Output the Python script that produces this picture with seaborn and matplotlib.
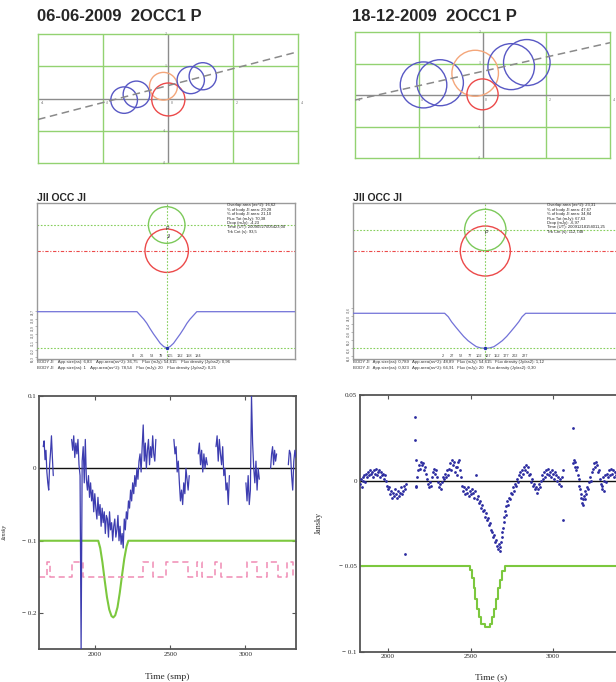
import numpy as np
import pandas as pd
import matplotlib
matplotlib.use("Agg")
import matplotlib.pyplot as plt
from matplotlib.patches import Circle
import seaborn as sns

W, H = 616, 682

# ---------------- top row: apparent tracks (arcsec) ----------------
orbit_xticks = [-4, -2, 0, 2, 4]
orbit_yticks = [-2, -1, 0, 1, 2]
circle_kind = ["JI", "JI", "JII", "P", "JI", "JI"]

jun_circle_x = [-1.35, -0.97, -0.14, 0.01, 0.70, 1.07]
jun_circle_y = [-0.05, 0.13, 0.38, -0.03, 0.57, 0.69]
jun_circle_r = [0.41, 0.41, 0.43, 0.51, 0.42, 0.42]
jun_track_x = [-4, 4]
jun_track_y = [-0.65, 1.45]

dec_circle_x = [-1.85, -1.33, -0.23, 0.0, 0.90, 1.39]
dec_circle_y = [0.32, 0.39, 0.69, 0.02, 0.90, 1.03]
dec_circle_r = [0.73, 0.73, 0.73, 0.49, 0.73, 0.73]
dec_track_x = [-4, 4]
dec_track_y = [-0.16, 1.66]

# ---------------- middle row: simulation ----------------
jun_body_dy = [0.0, -25.7]      # green (P) and red (JI) body centres
jun_body_r = [18.3, 21.7]
jun_lc_t = [-273, 11, 20, 30, 39, 48, 58, 68, 77, 87, 96, 105, 115, 124, 134,
            144, 153, 162, 172, 181, 460]
jun_lc_flux = [74.61, 74.61, 74.2, 73.75, 73.26, 72.65, 72.02, 71.45, 70.93,
               70.55, 70.38, 70.55, 70.93, 71.45, 72.02, 72.65, 73.26, 73.75,
               74.2, 74.61, 74.61]
jun_lc_xticks = [0, 26, 53, 79, 105, 132, 158, 184]
jun_lc_yticks = [69.3, 70.2, 71.1, 72.0, 72.9, 73.8, 74.7]
jun_info = ["Overlap area (as^2): 16,62", "% of body JI area: 29,28",
            "% of body JI area: 21,10", "Flux Tot (mJy): 70,38",
            "Drop (mJy): -4,23", "Time (UT): 20090527005423,00",
            "Trk Cnt (s): 93,5"]
jun_body_info = [
    "BODY JI    App.size(as): 6,83    App.area(as^2): 36,75    Flux (mJy): 54,615    Flux density (Jy/as2): 0,96",
    "BODY JI    App.size(as): 1    App.area(as^2): 78,54    Flux (mJy): 20    Flux density (Jy/as2): 0,25"]

dec_body_dy = [0.0, -21.0]
dec_body_r = [20.7, 25.0]
dec_lc_t = [-243, 8, 18, 27, 38, 49, 60, 72, 84, 95, 107, 119, 131, 143, 154,
            166, 178, 189, 200, 211, 220, 230, 502]
dec_lc_flux = [74.6, 74.6, 73.9, 72.9, 71.9, 70.94, 70.0, 69.15, 68.5, 67.95,
               67.7, 67.63, 67.7, 67.95, 68.5, 69.15, 70.0, 70.94, 71.9, 72.9,
               73.9, 74.6, 74.6]
dec_lc_xticks = [2, 27, 52, 77, 102, 127, 152, 177, 202, 227]
dec_lc_yticks = [66.0, 67.6, 69.2, 70.8, 72.4, 74.0, 75.6]
dec_info = ["Overlap area (as^2): 23,31", "% of body JI area: 47,67",
            "% of body JI area: 34,84", "Flux Tot (mJy): 67,63",
            "Drop (mJy): -6,97", "Time (UT): 20091218154011,25",
            "Trk Cnt (s): 112,748"]
dec_body_info = [
    "BODY JI   App.size(as): 0,789   App.area(as^2): 48,89   Flux (mJy): 54,615   Flux density (Jy/as2): 1,12",
    "BODY JI   App.size(as): 0,923   App.area(as^2): 66,91   Flux (mJy): 20   Flux density (Jy/as2): 0,30"]

# ---------------- bottom left: observed series (Jansky vs samples) ----------------
# each segment: (first sample, last sample, values)
jun_segments = [
    (1656, 1723, [0.03, 0.038, 0.012, 0.025, -0.005, -0.02, -0.03, 0.005, 0.022, 0.045, 0.015, -0.01]),
    (1845, 2405, [0.04, 0.025, 0.045, 0.015, 0.035, 0.02, 0.04, 0.005,
                  -0.01, -0.25, 0.01, 0.03, -0.02, 0.04, -0.015, -0.03,
                  -0.01, -0.04, -0.02, -0.045, -0.03, -0.06, -0.035, -0.055,
                  -0.07, -0.04, -0.065, -0.05, -0.08, -0.055, -0.075, -0.06,
                  -0.09, -0.065, -0.07, -0.095, -0.06, -0.085, -0.075, -0.1,
                  -0.08, -0.07, -0.095, -0.085, -0.065, -0.1, -0.08, -0.105,
                  -0.09, -0.11, -0.07, -0.085, -0.06, -0.07, -0.045, -0.055,
                  -0.03, -0.045, -0.02, -0.035, -0.01, -0.025, 0.0, -0.015,
                  0.01, 0.02, -0.005, 0.03, 0.06, 0.01, 0.035, 0.0,
                  0.025, 0.04, 0.005, 0.03, 0.015, 0.045, 0.02, 0.01, 0.04]),
    (2525, 2627, [0.04, 0.02, 0.03, -0.005, 0.01, -0.02, -0.045, -0.03, -0.05, -0.02, -0.035, 0.0, -0.015, -0.03, -0.01]),
    (2687, 2747, [0.02, 0.035, 0.005, 0.025, -0.005, 0.02, 0.0, 0.015, 0.005]),
    (2805, 2894, [0.03, 0.045, 0.01, 0.04, 0.02, 0.005, 0.03, -0.01, 0.0, -0.03, -0.02, -0.05, -0.01]),
    (3004, 3093, [-0.02, -0.045, -0.01, -0.05, -0.03, 0.1, 0.035, 0.0, -0.02, 0.01, -0.03, 0.0, -0.015]),
    (3168, 3208, [0.0, 0.02, 0.03, 0.005, 0.025, 0.01, 0.02]),
    (3286, 3337, [0.005, 0.025, 0.02, -0.01, -0.03, 0.01, 0.025, 0.015]),
]
jun_model_t = [1630, 2022, 2035, 2050, 2065, 2080, 2095, 2110, 2122, 2135, 2150,
               2165, 2180, 2195, 2210, 2222, 3337]
jun_model_v = [-0.1, -0.1, -0.11, -0.13, -0.155, -0.178, -0.195, -0.204, -0.206,
               -0.203, -0.192, -0.172, -0.148, -0.125, -0.108, -0.1, -0.1]
jun_flag_t = [1630, 1683, 1701, 1845, 1922, 2317, 2388, 2470, 2621, 2681, 2710,
              2798, 2836, 3009, 3075, 3142, 3220, 3279, 3319, 3337]
jun_flag_v = [-0.15, -0.13, -0.15, -0.13, -0.15, -0.13, -0.15, -0.13, -0.15,
              -0.13, -0.15, -0.13, -0.15, -0.13, -0.15, -0.13, -0.15, -0.13,
              -0.15, -0.15]

# ---------------- bottom right: observed points (Jansky vs seconds) ----------------
dec_points = [
    (1830, -0.002), (1835, 0.001), (1840, -0.004), (1845, 0.002), (1850, 0.0), (1856, 0.003),
    (1862, -0.001), (1868, 0.004), (1874, 0.002), (1880, 0.005), (1886, 0.003), (1892, 0.006),
    (1898, 0.004), (1904, 0.005), (1910, 0.002), (1916, 0.006), (1922, 0.004), (1928, 0.007),
    (1934, 0.003), (1940, 0.005), (1946, 0.006), (1952, 0.002), (1958, 0.005), (1964, 0.003),
    (1970, 0.004), (1976, 0.001), (1982, 0.003), (1988, 0.0), (1994, -0.003), (2000, -0.005),
    (2006, -0.004), (2012, -0.008), (2018, -0.006), (2024, -0.01), (2030, -0.007), (2036, -0.009),
    (2042, -0.005), (2048, -0.008), (2054, -0.01), (2060, -0.006), (2066, -0.009), (2072, -0.007),
    (2078, -0.004), (2084, -0.008), (2090, -0.006), (2096, -0.003), (2101, -0.043), (2104, -0.005),
    (2108, -0.002), (2166, 0.037), (2166, 0.0235), (2168, 0.012), (2168, -0.004), (2170, -0.003),
    (2176, 0.002), (2182, 0.006), (2188, 0.009), (2194, 0.007), (2200, 0.011), (2206, 0.009),
    (2212, 0.01), (2218, 0.006), (2224, 0.008), (2230, 0.004), (2236, 0.001), (2242, -0.002),
    (2248, -0.004), (2254, -0.001), (2260, -0.003), (2266, 0.002), (2272, 0.005), (2278, 0.007),
    (2284, 0.004), (2290, 0.006), (2296, 0.002), (2302, -0.001), (2308, -0.004), (2314, -0.002),
    (2320, -0.005), (2326, -0.001), (2332, 0.002), (2338, 0.001), (2344, 0.004), (2350, 0.002),
    (2356, 0.006), (2362, 0.003), (2368, 0.007), (2374, 0.01), (2380, 0.006), (2386, 0.012),
    (2392, 0.009), (2398, 0.011), (2404, 0.005), (2410, 0.008), (2416, 0.003), (2420, 0.008),
    (2426, 0.011), (2432, 0.012), (2436, 0.006), (2440, 0.002), (2450, -0.003), (2456, -0.006),
    (2462, -0.004), (2468, -0.008), (2474, -0.005), (2480, -0.007), (2486, -0.004), (2492, -0.009),
    (2498, -0.006), (2504, -0.008), (2510, -0.005), (2516, -0.007), (2522, -0.01), (2528, -0.006),
    (2534, 0.003), (2540, -0.011), (2546, -0.009), (2552, -0.013), (2558, -0.012), (2564, -0.016),
    (2570, -0.014), (2576, -0.018), (2582, -0.017), (2588, -0.021), (2594, -0.019), (2600, -0.023),
    (2606, -0.022), (2612, -0.026), (2618, -0.025), (2624, -0.029), (2630, -0.03), (2636, -0.033),
    (2642, -0.032), (2648, -0.036), (2654, -0.035), (2660, -0.038), (2666, -0.04), (2672, -0.037),
    (2676, -0.041), (2680, -0.039), (2684, -0.036), (2688, -0.033), (2692, -0.03), (2696, -0.028),
    (2700, -0.024), (2704, -0.021), (2708, -0.018), (2712, -0.02), (2716, -0.015), (2720, -0.012),
    (2726, -0.014), (2732, -0.01), (2738, -0.011), (2744, -0.007), (2750, -0.008), (2756, -0.004),
    (2762, -0.006), (2768, -0.002), (2774, -0.003), (2780, 0.001), (2786, -0.001), (2792, 0.003),
    (2798, 0.005), (2804, 0.002), (2810, 0.006), (2816, 0.004), (2822, 0.008), (2830, 0.006),
    (2836, 0.009), (2842, 0.005), (2848, 0.008), (2854, 0.003), (2860, 0.004), (2866, -0.001),
    (2872, 0.001), (2878, -0.003), (2884, -0.002), (2890, -0.005), (2896, -0.004), (2902, -0.007),
    (2908, -0.005), (2914, -0.002), (2920, -0.004), (2926, 0.0), (2932, 0.003), (2938, 0.001),
    (2944, 0.005), (2950, 0.002), (2956, 0.006), (2962, 0.004), (2968, 0.007), (2974, 0.003),
    (2980, 0.005), (2986, 0.002), (2992, 0.006), (2998, 0.004), (3004, 0.001), (3010, 0.005),
    (3016, 0.003), (3022, 0.0), (3028, 0.002), (3034, -0.002), (3040, 0.001), (3046, -0.003),
    (3052, 0.002), (3058, 0.006), (3062, -0.023), (3121, 0.031), (3124, 0.01), (3128, 0.012),
    (3132, 0.008), (3136, 0.011), (3140, 0.006), (3146, 0.008), (3150, 0.003), (3156, 0.001),
    (3160, -0.003), (3164, -0.005), (3168, -0.008), (3172, -0.01), (3176, -0.013), (3180, -0.011),
    (3184, -0.014), (3188, -0.009), (3192, -0.011), (3196, -0.006), (3200, -0.008), (3206, -0.004),
    (3212, -0.005), (3218, -0.001), (3224, 0.002), (3230, 0.0), (3236, 0.005), (3242, 0.007),
    (3248, 0.01), (3254, 0.008), (3260, 0.011), (3266, 0.009), (3272, 0.005), (3278, 0.006),
    (3284, 0.001), (3290, -0.002), (3294, -0.005), (3298, -0.003), (3302, 0.002), (3306, -0.006),
    (3310, 0.0), (3316, 0.003), (3322, -0.001), (3328, 0.004), (3334, 0.002), (3340, 0.006),
    (3346, 0.003), (3352, 0.007), (3358, 0.004), (3364, 0.006), (3370, 0.002), (3376, 0.005),
    (3382, 0.003),
]
dec_model_t = [1828, 2499, 2510, 2520, 2530, 2541, 2552, 2566, 2586, 2616, 2630,
               2645, 2657, 2668, 2680, 2693, 2707, 3600]
dec_model_v = [-0.05, -0.052, -0.057, -0.063, -0.069, -0.075, -0.08, -0.084,
               -0.0853, -0.084, -0.08, -0.075, -0.069, -0.063, -0.058, -0.053,
               -0.05, -0.05]

# ---------------- styling ----------------
sns.set_theme(style="white")
plt.rcParams["font.family"] = ["Liberation Sans", "DejaVu Sans"]
SERIF = ["Liberation Serif", "DejaVu Serif"]

GRID_GREEN = "#93d271"
AXIS_GRAY = "#8c8c8c"
circle_colors = {"JI": "#5858c4", "JII": "#f4a67a", "P": "#ec4a4a"}


def px_axes(fig, left, top, right, bottom):
    return fig.add_axes([left / W, 1 - bottom / H, (right - left) / W, (bottom - top) / H])


def draw_track(ax, cx, cy, cr, track_x, track_y):
    for s in ax.spines.values():
        s.set_color(GRID_GREEN)
        s.set_linewidth(1.0)
    ax.set_xticks([])
    ax.set_yticks([])
    for gx in [-2, 2]:
        ax.axvline(gx, color=GRID_GREEN, lw=1.0, zorder=1)
    for gy in [-1, 1]:
        ax.axhline(gy, color=GRID_GREEN, lw=1.0, zorder=1)
    ax.axvline(0, color=AXIS_GRAY, lw=1.0, zorder=2)
    ax.axhline(0, color=AXIS_GRAY, lw=1.0, zorder=2)
    for x, y, r, k in zip(cx, cy, cr, circle_kind):
        ax.add_patch(Circle((x, y), r, fill=False, ec=circle_colors[k], lw=1.0, zorder=4))
    sns.lineplot(x=track_x, y=track_y, ax=ax, color="#8a8a8a", lw=1.1,
                 linestyle=(0, (5, 3)), zorder=5)
    ax.set_xlim(-4, 4)
    ax.set_ylim(-2, 2)
    for t in orbit_xticks:
        ax.text(t + 0.08, -0.08, str(t), fontsize=2.8, color="#666666",
                ha="left", va="top", family=SERIF)
    for t in orbit_yticks:
        if t != 0:
            ax.text(-0.05, t, str(t), fontsize=2.8, color="#666666",
                    ha="right", va="center", family=SERIF)
    ax.set_xlabel("Right Ascension (as)", fontsize=3.6, family=SERIF)
    ax.set_ylabel("Declination (as)", fontsize=3.6, family=SERIF)


def draw_sim(fig, box, centre, body_dy, body_r, lc_t, lc_flux, lc_xlim, lc_ylim,
             xticks, yticks, info, info_x, body_info):
    left, top, right, bottom = box
    gcx, gcy = centre
    # sky part, one unit per pixel
    ax = px_axes(fig, left, top, right, bottom)
    ax.set_xticks([])
    ax.set_yticks([])
    for s in ax.spines.values():
        s.set_color("#9a9a9a")
        s.set_linewidth(1.0)
    ax.axhline(body_dy[0], color="#86cf5c", lw=0.8, linestyle=(0, (1.5, 1.5)))
    ax.axhline(body_dy[1], color="#ec4a4a", lw=0.8, linestyle=(0, (3, 1.5, 1, 1.5)))
    ax.axvline(0, color="#86cf5c", lw=0.8, linestyle=(0, (1.5, 1.5)))
    ax.add_patch(Circle((0, body_dy[0]), body_r[0], fill=False, ec="#7cc95a", lw=1.0))
    ax.add_patch(Circle((0, body_dy[1]), body_r[1], fill=False, ec="#ec4a4a", lw=1.0))
    ax.text(1, body_dy[0] - 3, "P", fontsize=3.5, ha="center", va="center", style="italic")
    if body_dy[1] < -24:
        ax.text(1, body_dy[0] - 11, "JI", fontsize=3.5, ha="center", va="center", style="italic")
    ax.set_xlim(left - gcx, right - gcx)
    ax.set_ylim(gcy - bottom, gcy - top)
    # light curve part
    lc = px_axes(fig, left, top, right, bottom)
    lc.patch.set_alpha(0)
    for s in lc.spines.values():
        s.set_visible(False)
    sns.lineplot(x=lc_t, y=lc_flux, ax=lc, color="#7272d8", lw=0.9,
                 estimator=None, sort=False)
    imin = int(np.argmin(lc_flux))
    lc.axhline(lc_flux[imin], color="#86cf5c", lw=0.8, linestyle=(0, (1.5, 1.5)))
    sns.scatterplot(x=[lc_t[imin]], y=[lc_flux[imin]], ax=lc, color="#2233aa",
                    s=6, linewidth=0, zorder=5)
    lc.set_xticks(xticks)
    lc.set_xticklabels([str(t) for t in xticks])
    lc.set_yticks(yticks)
    lc.set_yticklabels([f"{v:.1f}".replace(".", ",") for v in yticks], rotation=90)
    lc.tick_params(axis="x", bottom=True, length=0, pad=-3.8, labelsize=2.8,
                   labelcolor="#444444")
    lc.tick_params(axis="y", left=True, length=1.5, width=0.4, pad=0.5,
                   labelsize=2.2, labelcolor="#444444", color="#888888")
    lc.set_xlabel("")
    lc.set_ylabel("")
    lc.set_xlim(*lc_xlim)
    lc.set_ylim(*lc_ylim)
    fig.text(info_x / W, 1 - 203.5 / H, "\n".join(info),
             fontsize=3.0, linespacing=1.12, va="top", ha="left", color="#222222")
    for i, line in enumerate(body_info):
        fig.text(left / W, 1 - (362.5 + 5 * i) / H, line, fontsize=3.1,
                 va="center", ha="left", color="#333333")


def style_obs(ax, xlim, ylim, xticks, yticks, ylabels, xlabel, xlab_pos, ylab_pos, ylab_style):
    ax.axhline(0, color="#111111", lw=1.0, zorder=1)
    for s in ax.spines.values():
        s.set_color("#555555")
        s.set_linewidth(1.3)
    ax.set_xticks(xticks)
    ax.set_xticklabels([str(t) for t in xticks], family=SERIF)
    ax.set_yticks(yticks)
    ax.set_yticklabels(ylabels, family=SERIF)
    ax.tick_params(direction="in", bottom=True, left=True, top=True, right=True,
                   length=3, width=0.8, color="#555555", labelsize=5, pad=2)
    ax.set_xlabel(xlabel, fontsize=6.8, family=SERIF)
    ax.set_ylabel("Jansky", family=SERIF, **ylab_style)
    ax.xaxis.set_label_coords(*xlab_pos)
    ax.yaxis.set_label_coords(*ylab_pos)
    ax.set_xlim(*xlim)
    ax.set_ylim(*ylim)


fig = plt.figure(figsize=(W / 100, H / 100), dpi=100)

# titles
fig.text(37 / W, 1 - 21 / H, "06-06-2009  2OCC1 P", fontsize=12, fontweight="bold", va="baseline")
fig.text(352 / W, 1 - 21 / H, "18-12-2009  2OCC1 P", fontsize=12, fontweight="bold", va="baseline")
fig.text(37 / W, 1 - 201 / H, "JII OCC JI", fontsize=7.5, fontweight="bold", va="baseline")
fig.text(353 / W, 1 - 201 / H, "JII OCC JI", fontsize=7.5, fontweight="bold", va="baseline")

# top row
ax_tl = px_axes(fig, 38, 34, 298, 163)
draw_track(ax_tl, jun_circle_x, jun_circle_y, jun_circle_r, jun_track_x, jun_track_y)
ax_tl.xaxis.set_label_coords(0.5, -0.11)
ax_tl.yaxis.set_label_coords(-0.058, 0.49)
ax_tr = px_axes(fig, 355, 32, 610, 158)
draw_track(ax_tr, dec_circle_x, dec_circle_y, dec_circle_r, dec_track_x, dec_track_y)
ax_tr.xaxis.set_label_coords(0.486, -0.115)
ax_tr.yaxis.set_label_coords(-0.055, 0.5)

# middle row
draw_sim(fig, (37, 203, 295, 359), (166.7, 225), jun_body_dy, jun_body_r, jun_lc_t,
         jun_lc_flux, (-273, 460), (69.1, 87.27), jun_lc_xticks, jun_lc_yticks,
         jun_info, 227, jun_body_info)
draw_sim(fig, (353, 203, 625, 359), (485.3, 230), dec_body_dy, dec_body_r, dec_lc_t,
         dec_lc_flux, (-243, 502), (65.5, 96.55), dec_lc_xticks, dec_lc_yticks,
         dec_info, 547, dec_body_info)

# bottom left
jun_df = pd.concat([
    pd.DataFrame({"t": np.linspace(a, b, len(v)), "v": v, "seg": i})
    for i, (a, b, v) in enumerate(jun_segments)
])
ax_bl = px_axes(fig, 39.3, 396, 296, 649.3)
sns.lineplot(data=jun_df, x="t", y="v", units="seg", estimator=None, sort=False,
             color="#3d3db0", lw=0.9, ax=ax_bl, zorder=3)
sns.lineplot(x=jun_model_t, y=jun_model_v, ax=ax_bl, color="#7cc83e", lw=1.5,
             estimator=None, sort=False, zorder=2)
sns.lineplot(x=jun_flag_t, y=jun_flag_v, ax=ax_bl, color="#f08cb4", lw=1.1,
             estimator=None, sort=False, drawstyle="steps-post",
             linestyle=(0, (4, 2.5)), zorder=2)
style_obs(ax_bl, (1630, 3337), (-0.25, 0.1), [2000, 2500, 3000], [-0.2, -0.1, 0, 0.1],
          ["\u2212 0.2", "\u2212 0.1", "0", "0.1"], "Time (smp)",
          (0.5, -0.094), (-0.127, 0.464), {"fontsize": 4.2, "style": "italic"})

# bottom right
dec_t, dec_v = zip(*dec_points)
ax_br = px_axes(fig, 359.7, 395, 652, 651.7)
sns.scatterplot(x=list(dec_t), y=list(dec_v), ax=ax_br, color="#2b2ba0", s=4,
                linewidth=0, zorder=3)
sns.lineplot(x=dec_model_t, y=dec_model_v, ax=ax_br, color="#7cc83e", lw=1.5,
             estimator=None, sort=False, drawstyle="steps-post", zorder=2)
style_obs(ax_br, (1828, 3600), (-0.1, 0.05), [2000, 2500, 3000], [-0.1, -0.05, 0, 0.05],
          ["\u2212 0.1", "\u2212 0.05", "0", "0.05"], "Time (s)",
          (0.45, -0.083), (-0.125, 0.501), {"fontsize": 5.8})

fig.savefig("out.png", dpi=100)
